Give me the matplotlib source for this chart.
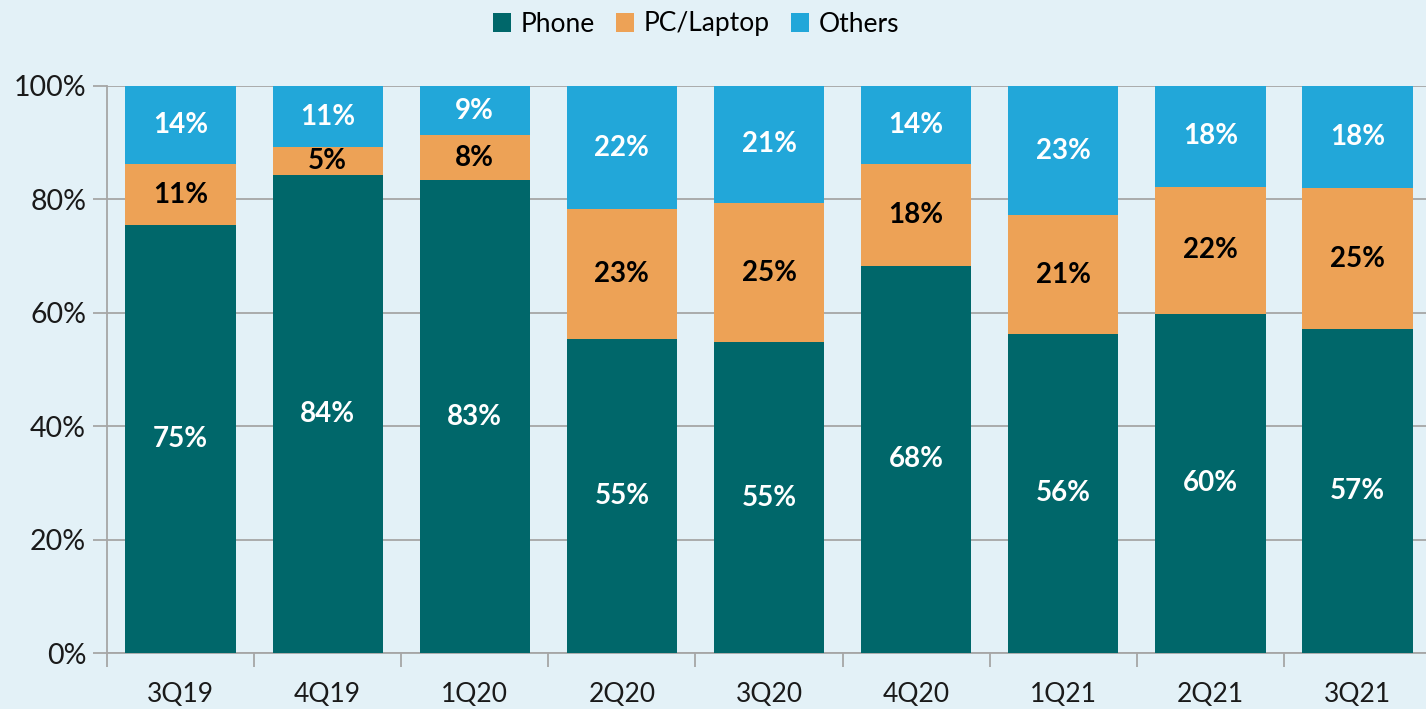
import matplotlib.pyplot as plt
from matplotlib.ticker import FixedLocator, NullFormatter
import numpy as np

# quarterly device share (percent)
quarters = ["3Q19", "4Q19", "1Q20", "2Q20", "3Q20", "4Q20", "1Q21", "2Q21", "3Q21"]
phone = [75.4, 84.3, 83.4, 55.4, 54.8, 68.3, 56.3, 59.8, 57.1]
pc_laptop = [10.8, 4.9, 7.9, 22.9, 24.6, 17.9, 20.9, 22.4, 24.9]
others = [13.8, 10.8, 8.7, 21.7, 20.6, 13.8, 22.8, 17.8, 18.0]

series = [
    ("Phone", phone, "#00676A", "white"),
    ("PC/Laptop", pc_laptop, "#EDA256", "black"),
    ("Others", others, "#22A7D9", "white"),
]

bg = "#E3F1F7"
grid_col = "#A6A6A6"
plt.rcParams["font.family"] = ["Lato", "DejaVu Sans"]

fig = plt.figure(figsize=(14.26, 7.09), dpi=100, facecolor=bg)
ax = fig.add_axes([107 / 1426, 1 - 653 / 709, 1319 / 1426, (653 - 86) / 709])
ax.set_facecolor(bg)

x = np.arange(len(quarters))
bottom = np.zeros(len(quarters))
for name, vals, color, txt_color in series:
    vals = np.array(vals)
    ax.bar(x, vals, width=0.75, bottom=bottom, color=color, label=name, zorder=3)
    for xi, b, v in zip(x, bottom, vals):
        ax.text(xi, b + v / 2, f"{round(v)}%", ha="center", va="center",
                color=txt_color, fontsize=20, fontweight="bold", zorder=4)
    bottom += vals

# axis extends a bit past the right edge of the picture
ax.set_xlim(-0.5, 8.5 - 5 / 147)
ax.set_ylim(0, 100)

ax.set_yticks(np.arange(0, 101, 20))
ax.set_yticklabels([f"{v}%" for v in range(0, 101, 20)], fontsize=20.5, color="#1a1a1a")
ax.yaxis.grid(True, color=grid_col, linewidth=1.3, zorder=0)
ax.tick_params(axis="y", length=10, width=1.3, color=grid_col, pad=5)

ax.set_xticks(x)
ax.set_xticklabels(quarters, fontsize=19, color="#1a1a1a")
ax.tick_params(axis="x", which="major", length=0, pad=21)
ax.xaxis.set_minor_locator(FixedLocator(np.arange(-0.5, 9, 1)))
ax.xaxis.set_minor_formatter(NullFormatter())
ax.tick_params(axis="x", which="minor", length=10, width=1.3, color=grid_col)

for side in ["top", "right"]:
    ax.spines[side].set_visible(False)
for side in ["left", "bottom"]:
    ax.spines[side].set_color(grid_col)
    ax.spines[side].set_linewidth(1.3)

fig.legend(loc="center", bbox_to_anchor=(696 / 1426, 1 - 24 / 709), ncol=3,
           frameon=False, fontsize=19, handlelength=0.7, handleheight=0.7,
           handletextpad=0.35, columnspacing=0.8)

fig.savefig("out.png", dpi=100, facecolor=bg)
plt.close(fig)
